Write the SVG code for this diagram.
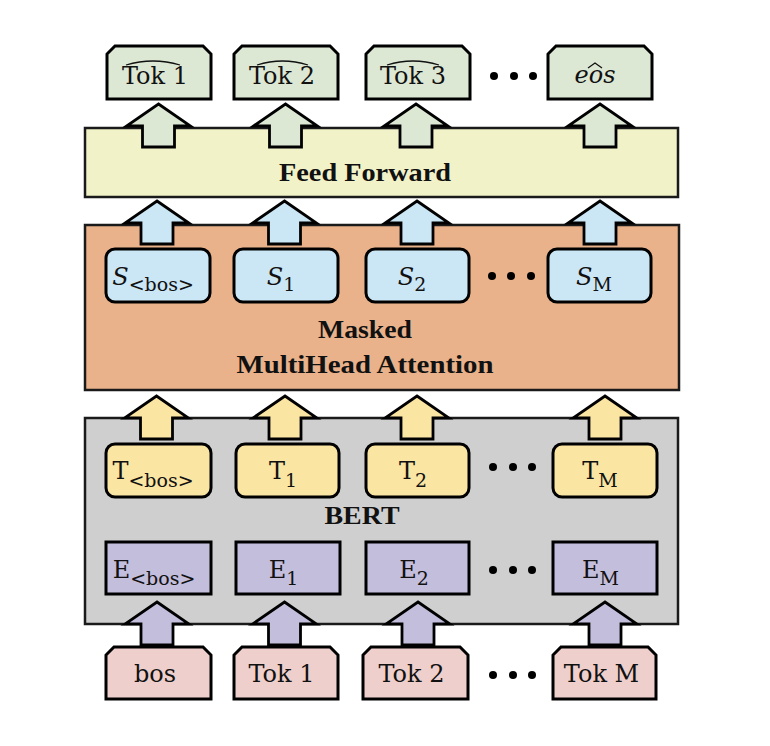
<svg xmlns="http://www.w3.org/2000/svg" width="770" height="746" viewBox="0 0 770 746">
<style>
.box{stroke:#000;stroke-width:3;stroke-linejoin:miter}
.big{stroke:#1a1a1a;stroke-width:2.5}
.arr{stroke:#000;stroke-width:2.8;stroke-linejoin:miter}
.lbl{font-family:"DejaVu Serif","Liberation Serif",serif;font-size:24px;fill:#111;text-anchor:middle}
.sub{font-size:19px}
.ttl{font-family:"Liberation Serif","Times New Roman",serif;font-weight:bold;font-size:26px;fill:#111;text-anchor:middle}
.hat{fill:none;stroke:#111;stroke-width:1.3}
.dot{fill:#000}
</style>
<defs>
<path id="arrow" d="M0,0 L32,22 L16,22 L16,43 L-16,43 L-16,22 L-32,22 Z"/>
</defs>
<rect width="770" height="746" fill="#fff"/>

<g id="feed-forward"><rect class="box big" x="85" y="128" width="593" height="69" fill="#f1f2c8"/><text class="ttl" x="365" y="181" textLength="172" lengthAdjust="spacingAndGlyphs">Feed Forward</text></g>
<g id="mha"><rect class="box big" x="85" y="225" width="594" height="165" fill="#e9b28a"/><text class="ttl" x="365" y="338" textLength="94" lengthAdjust="spacingAndGlyphs">Masked</text><text class="ttl" x="365" y="373" textLength="257" lengthAdjust="spacingAndGlyphs">MultiHead Attention</text></g>
<g id="bert"><rect class="box big" x="85" y="418" width="593" height="206" fill="#d0cfd0"/><text class="ttl" x="362" y="524" textLength="75" lengthAdjust="spacingAndGlyphs">BERT</text></g>

<g id="out-tok1"><path class="box" d="M107,99 L107,54 L115,46 L203,46 L211,54 L211,99 Z" fill="#dde8d4"/><text class="lbl" x="155" y="84">Tok 1</text><path class="hat" d="M126,65 Q153,57 180,65"/></g>
<g id="out-tok2"><path class="box" d="M234,99 L234,54 L242,46 L330,46 L338,54 L338,99 Z" fill="#dde8d4"/><text class="lbl" x="282" y="84">Tok 2</text><path class="hat" d="M257,65 Q282.5,57 308,65"/></g>
<g id="out-tok3"><path class="box" d="M366,99 L366,54 L374,46 L462,46 L470,54 L470,99 Z" fill="#dde8d4"/><text class="lbl" x="413" y="84">Tok 3</text><path class="hat" d="M387,65 Q413,57 439,65"/></g>
<g id="out-eos"><path class="box" d="M548,99 L548,54 L556,46 L644,46 L652,54 L652,99 Z" fill="#dde8d4"/><text class="lbl" x="595" y="83" font-style="italic">eos</text><path class="hat" d="M588,68 L595,63 L602,68"/></g>

<g id="s-bos"><rect class="box" x="106" y="249" width="104" height="53" rx="9" fill="#cbe6f4"/><text class="lbl" x="153" y="285"><tspan font-style="italic">S</tspan><tspan class="sub" dy="6">&lt;bos&gt;</tspan></text></g>
<g id="s-1"><rect class="box" x="234" y="249" width="104" height="53" rx="9" fill="#cbe6f4"/><text class="lbl" x="281" y="285"><tspan font-style="italic">S</tspan><tspan class="sub" dy="6">1</tspan></text></g>
<g id="s-2"><rect class="box" x="366" y="249" width="103" height="53" rx="9" fill="#cbe6f4"/><text class="lbl" x="412" y="285"><tspan font-style="italic">S</tspan><tspan class="sub" dy="6">2</tspan></text></g>
<g id="s-m"><rect class="box" x="548" y="249" width="103" height="53" rx="9" fill="#cbe6f4"/><text class="lbl" x="594" y="285"><tspan font-style="italic">S</tspan><tspan class="sub" dy="6">M</tspan></text></g>

<g id="t-bos"><rect class="box" x="106" y="444" width="105" height="53" rx="9" fill="#fbe5a3"/><text class="lbl" x="153" y="479">T<tspan class="sub" dy="8">&lt;bos&gt;</tspan></text></g>
<g id="t-1"><rect class="box" x="236" y="444" width="103" height="53" rx="9" fill="#fbe5a3"/><text class="lbl" x="283" y="479">T<tspan class="sub" dy="8">1</tspan></text></g>
<g id="t-2"><rect class="box" x="366" y="444" width="103" height="53" rx="9" fill="#fbe5a3"/><text class="lbl" x="413" y="479">T<tspan class="sub" dy="8">2</tspan></text></g>
<g id="t-m"><rect class="box" x="553" y="444" width="104" height="53" rx="9" fill="#fbe5a3"/><text class="lbl" x="600" y="479">T<tspan class="sub" dy="8">M</tspan></text></g>

<g id="e-bos"><rect class="box" x="106" y="542" width="105" height="52" fill="#c4bedd"/><text class="lbl" x="154" y="578">E<tspan class="sub" dy="7">&lt;bos&gt;</tspan></text></g>
<g id="e-1"><rect class="box" x="236" y="542" width="104" height="52" fill="#c4bedd"/><text class="lbl" x="283.5" y="578">E<tspan class="sub" dy="7">1</tspan></text></g>
<g id="e-2"><rect class="box" x="366" y="542" width="103" height="52" fill="#c4bedd"/><text class="lbl" x="414" y="578">E<tspan class="sub" dy="7">2</tspan></text></g>
<g id="e-m"><rect class="box" x="553" y="542" width="104" height="52" fill="#c4bedd"/><text class="lbl" x="600.5" y="578">E<tspan class="sub" dy="7">M</tspan></text></g>

<g id="in-bos"><path class="box" d="M106,699 L106,655 L114,647 L203,647 L211,655 L211,699 Z" fill="#efcfcc"/><text class="lbl" x="155" y="682">bos</text></g>
<g id="in-tok1"><path class="box" d="M234,699 L234,655 L242,647 L330,647 L338,655 L338,699 Z" fill="#efcfcc"/><text class="lbl" x="281.5" y="682">Tok 1</text></g>
<g id="in-tok2"><path class="box" d="M363,699 L363,655 L371,647 L460,647 L468,655 L468,699 Z" fill="#efcfcc"/><text class="lbl" x="411.5" y="682">Tok 2</text></g>
<g id="in-tokm"><path class="box" d="M553,699 L553,655 L561,647 L648,647 L656,655 L656,699 Z" fill="#efcfcc"/><text class="lbl" x="601.5" y="682">Tok M</text></g>

<g id="dots">
<circle class="dot" cx="494" cy="76" r="4"/><circle class="dot" cx="514" cy="76" r="4"/><circle class="dot" cx="533" cy="76" r="4"/>
<circle class="dot" cx="492" cy="276" r="4"/><circle class="dot" cx="511" cy="276" r="4"/><circle class="dot" cx="531" cy="276" r="4"/>
<circle class="dot" cx="493" cy="467" r="4"/><circle class="dot" cx="513" cy="467" r="4"/><circle class="dot" cx="532" cy="467" r="4"/>
<circle class="dot" cx="493" cy="570" r="4"/><circle class="dot" cx="513" cy="570" r="4"/><circle class="dot" cx="532" cy="570" r="4"/>
<circle class="dot" cx="493" cy="675" r="4"/><circle class="dot" cx="513" cy="675" r="4"/><circle class="dot" cx="532" cy="675" r="4"/>
</g>

<g id="connectors">
<g fill="#dde8d4">
<use href="#arrow" class="arr" x="158.5" y="104"/><use href="#arrow" class="arr" x="285.5" y="104"/><use href="#arrow" class="arr" x="416" y="104"/><use href="#arrow" class="arr" x="600" y="104"/>
</g>
<g fill="#cbe6f4">
<use href="#arrow" class="arr" x="157" y="201"/><use href="#arrow" class="arr" x="284.5" y="201"/><use href="#arrow" class="arr" x="417" y="201"/><use href="#arrow" class="arr" x="600" y="201"/>
</g>
<g fill="#fbe5a3">
<use href="#arrow" class="arr" x="156.5" y="396"/><use href="#arrow" class="arr" x="285" y="396"/><use href="#arrow" class="arr" x="417" y="396"/><use href="#arrow" class="arr" x="605" y="396"/>
</g>
<g fill="#c4bedd">
<use href="#arrow" class="arr" x="157" y="602"/><use href="#arrow" class="arr" x="284.5" y="602"/><use href="#arrow" class="arr" x="418" y="602"/><use href="#arrow" class="arr" x="605" y="602"/>
</g>
</g>
</svg>
